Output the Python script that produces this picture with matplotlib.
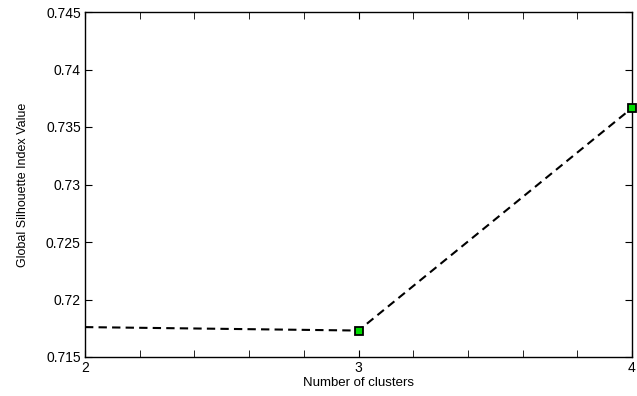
import matplotlib
matplotlib.use("Agg")
import matplotlib.pyplot as plt
from matplotlib.ticker import MultipleLocator

plt.rcParams['font.family'] = ['Liberation Sans', 'DejaVu Sans']

clusters = [2, 3, 4]
silhouette = [0.7176, 0.7173, 0.73665]
xtick_labels = ["2", "3", "4"]
ytick_values = [0.715, 0.72, 0.725, 0.73, 0.735, 0.74, 0.745]
ytick_labels = ["0.715", "0.72", "0.725", "0.73", "0.735", "0.74", "0.745"]

fig = plt.figure(figsize=(6.37, 3.96), dpi=100)
ax = fig.add_axes([85 / 637, 1 - 357 / 396, (632 - 85) / 637, (357 - 12) / 396])

ax.plot(clusters, silhouette, linestyle="--", color="black", linewidth=1.5,
        dashes=(4, 2.5), marker="s", markersize=6, markerfacecolor="#00dd00",
        markeredgecolor="black", markeredgewidth=1.3, markevery=[1, 2],
        clip_on=False, zorder=3)

ax.set_xlim(2, 4)
ax.set_ylim(0.715, 0.745)
ax.set_xticks(clusters)
ax.set_xticklabels(xtick_labels)
ax.xaxis.set_minor_locator(MultipleLocator(0.2))
ax.set_yticks(ytick_values)
ax.set_yticklabels(ytick_labels)

ax.tick_params(axis="both", which="both", direction="in", top=True, right=True,
               labelsize=10, colors="black", pad=3)
ax.tick_params(which="major", length=5)
ax.tick_params(which="minor", length=5)
for s in ax.spines.values():
    s.set_linewidth(1.0)

ax.set_xlabel("Number of clusters", fontsize=9.5, labelpad=1)
ax.set_ylabel("Global Silhouette Index Value", fontsize=9, labelpad=12)

fig.savefig("out.png", dpi=100)
